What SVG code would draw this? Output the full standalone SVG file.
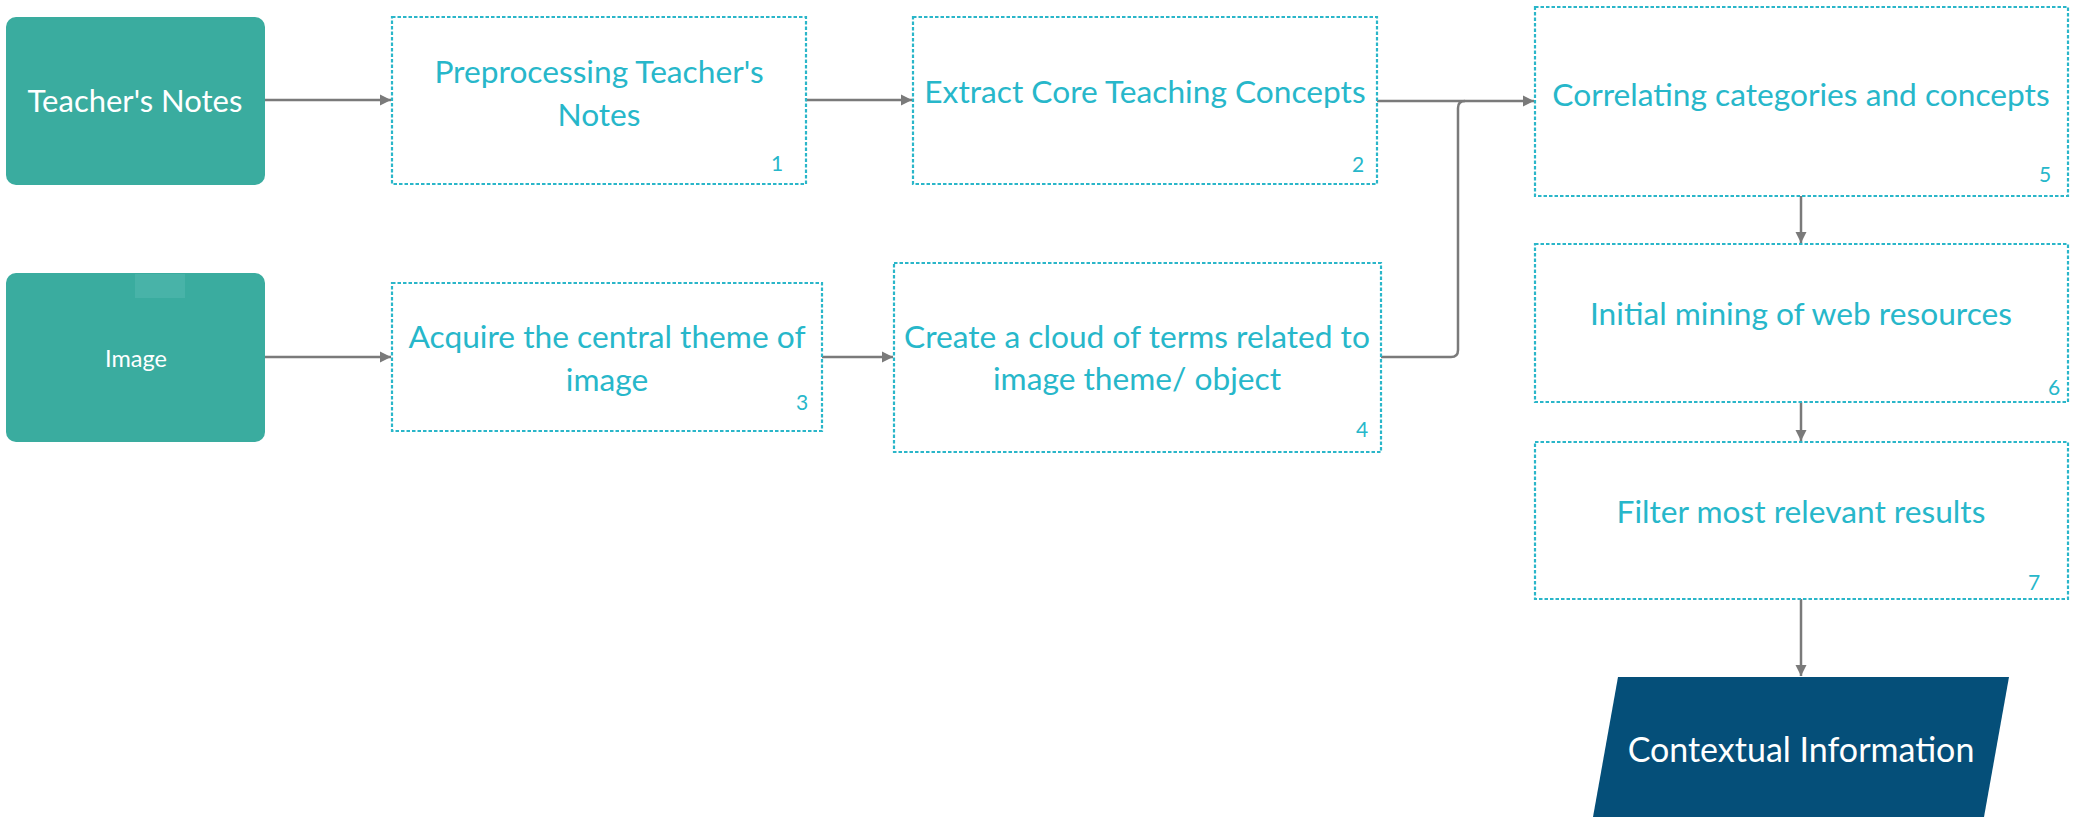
<svg xmlns="http://www.w3.org/2000/svg" width="2075" height="823" viewBox="0 0 2075 823">
<defs>
<style>
.src{fill:#3aac9f;}
.step{fill:#ffffff;stroke:#2ab6c9;stroke-width:2.2;stroke-dasharray:3.5 2;}
.t{font-family:Lato,"Liberation Sans",sans-serif;fill:#27b7ca;font-size:31.7px;text-anchor:middle;}
.n{font-family:Lato,"Liberation Sans",sans-serif;fill:#27b7ca;font-size:21px;text-anchor:middle;}
.w{font-family:Lato,"Liberation Sans",sans-serif;fill:#ffffff;text-anchor:middle;}
.c{fill:none;stroke:#7a7a7a;stroke-width:2.5;}
</style>
<marker id="ah" markerUnits="userSpaceOnUse" markerWidth="12" markerHeight="12" viewBox="0 0 12 12" refX="11" refY="6" orient="auto">
<path d="M0,0.5 L11,6 L0,11.5 Z" fill="#7a7a7a"/>
</marker>
</defs>
<rect width="2075" height="823" fill="#ffffff"/>
<g id="connectors">
<path class="c" d="M265,100 H391" marker-end="url(#ah)"/>
<path class="c" d="M806,100 H912" marker-end="url(#ah)"/>
<path class="c" d="M265,357 H391" marker-end="url(#ah)"/>
<path class="c" d="M822,357 H893" marker-end="url(#ah)"/>
<path class="c" d="M1377,101 H1534" marker-end="url(#ah)"/>
<path class="c" d="M1381,357 H1451 Q1458,357 1458,350 V108 Q1458,101 1465,101"/>
<path class="c" d="M1801,196 V243" marker-end="url(#ah)"/>
<path class="c" d="M1801,402 V441" marker-end="url(#ah)"/>
<path class="c" d="M1801,599 V676" marker-end="url(#ah)"/>
</g>
<g id="teachers-notes">
<rect class="src" x="6" y="17" width="259" height="168" rx="10"/>
<text class="w" x="135" y="112" font-size="31">Teacher's Notes</text>
</g>
<g id="image">
<rect class="src" x="6" y="273" width="259" height="169" rx="10"/>
<rect x="135" y="274" width="50" height="24" fill="#48b3a8"/>
<text class="w" x="136" y="367" font-size="23.5">Image</text>
</g>
<g id="step1">
<rect class="step" x="392" y="17" width="414" height="167"/>
<text class="t" x="599" y="83">Preprocessing Teacher's</text>
<text class="t" x="599" y="126">Notes</text>
<text class="n" x="777" y="171">1</text>
</g>
<g id="step2">
<rect class="step" x="913" y="17" width="464" height="167"/>
<text class="t" x="1145" y="103">Extract Core Teaching Concepts</text>
<text class="n" x="1358" y="172">2</text>
</g>
<g id="step3">
<rect class="step" x="392" y="283" width="430" height="148"/>
<text class="t" x="607" y="348">Acquire the central theme of</text>
<text class="t" x="607" y="391">image</text>
<text class="n" x="802" y="410">3</text>
</g>
<g id="step4">
<rect class="step" x="894" y="263" width="487" height="189"/>
<text class="t" x="1137" y="348">Create a cloud of terms related to</text>
<text class="t" x="1137" y="390">image theme/ object</text>
<text class="n" x="1362" y="437">4</text>
</g>
<g id="step5">
<rect class="step" x="1535" y="7" width="533" height="189"/>
<text class="t" x="1801" y="106">Correlating categories and concepts</text>
<text class="n" x="2045" y="182">5</text>
</g>
<g id="step6">
<rect class="step" x="1535" y="244" width="533" height="158"/>
<text class="t" x="1801" y="325">Initial mining of web resources</text>
<text class="n" x="2054" y="395">6</text>
</g>
<g id="step7">
<rect class="step" x="1535" y="442" width="533" height="157"/>
<text class="t" x="1801" y="523">Filter most relevant results</text>
<text class="n" x="2034" y="590">7</text>
</g>
<g id="contextual-information">
<polygon points="1618,677 2009,677 1984,817 1593,817" fill="#054f79"/>
<text class="w" x="1801" y="762" font-size="34">Contextual Information</text>
</g>
</svg>
